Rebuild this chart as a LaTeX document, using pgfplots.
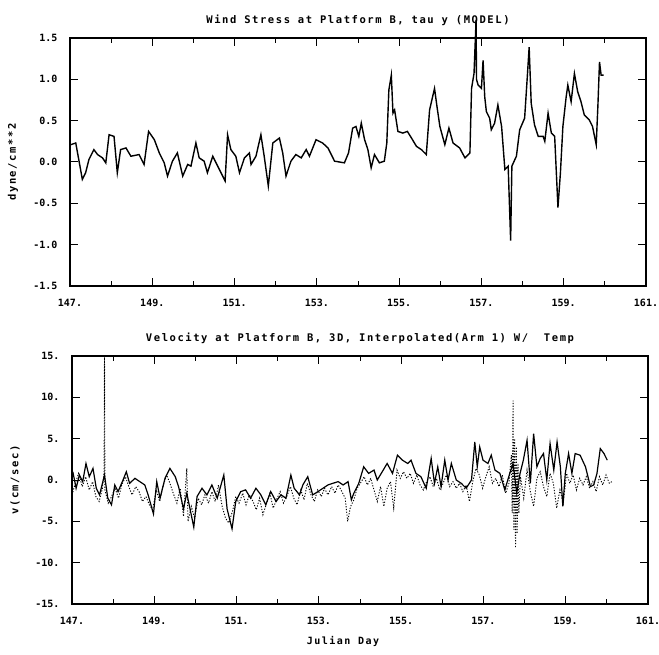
\documentclass[border=0pt]{standalone}
\usepackage{fontspec}
\setmainfont{DejaVu Sans Mono}
\newfontfamily\ttl[LetterSpace=15]{DejaVu Sans Mono}
\usepackage{pgfplots}
\usepackage{pgfplotstable}
\pgfplotsset{compat=1.18}

% wind stress tau y (model), dyne/cm**2
\pgfplotstableread{
day tau
147.00 0.20
147.02 0.21
147.14 0.23
147.22 0.01
147.30 -0.21
147.38 -0.13
147.46 0.03
147.58 0.15
147.67 0.09
147.79 0.05
147.87 -0.01
147.95 0.33
148.07 0.31
148.15 -0.13
148.23 0.15
148.36 0.17
148.48 0.07
148.68 0.09
148.80 -0.03
148.91 0.37
149.05 0.27
149.17 0.11
149.29 -0.01
149.37 -0.17
149.49 0.01
149.61 0.11
149.74 -0.17
149.86 -0.03
149.94 -0.05
150.06 0.23
150.14 0.05
150.26 0.01
150.34 -0.13
150.47 0.07
150.55 -0.01
150.63 -0.09
150.71 -0.17
150.77 -0.23
150.83 0.33
150.91 0.15
151.03 0.07
151.12 -0.13
151.24 0.05
151.36 0.11
151.40 -0.03
151.52 0.07
151.64 0.33
151.72 0.07
151.82 -0.29
151.93 0.23
152.09 0.29
152.17 0.11
152.25 -0.17
152.37 0.01
152.49 0.09
152.62 0.05
152.74 0.15
152.82 0.07
152.98 0.27
153.14 0.23
153.27 0.17
153.43 0.01
153.67 -0.01
153.77 0.11
153.87 0.41
153.95 0.43
154.02 0.31
154.08 0.47
154.16 0.27
154.24 0.15
154.32 -0.07
154.40 0.09
154.52 -0.01
154.64 0.01
154.70 0.23
154.75 0.87
154.81 1.05
154.85 0.59
154.89 0.63
154.97 0.37
155.09 0.35
155.20 0.37
155.30 0.29
155.42 0.19
155.54 0.15
155.66 0.09
155.74 0.63
155.86 0.89
155.92 0.67
155.99 0.43
156.11 0.21
156.21 0.41
156.31 0.23
156.47 0.17
156.60 0.05
156.72 0.11
156.76 0.89
156.82 1.07
156.87 1.72
156.88 1.00
156.92 0.93
157.00 0.89
157.04 1.23
157.08 0.79
157.12 0.61
157.20 0.53
157.24 0.39
157.32 0.47
157.40 0.69
157.49 0.43
157.57 -0.09
157.65 -0.05
157.71 -0.95
157.74 -0.05
157.85 0.07
157.93 0.39
158.05 0.53
158.12 1.07
158.16 1.39
158.21 0.71
158.29 0.45
158.38 0.31
158.50 0.31
158.54 0.25
158.62 0.59
158.70 0.35
158.78 0.31
158.86 -0.55
158.92 -0.13
158.98 0.43
159.06 0.79
159.10 0.93
159.18 0.73
159.26 1.07
159.34 0.85
159.42 0.73
159.50 0.57
159.62 0.51
159.70 0.43
159.79 0.21
159.83 0.67
159.87 1.21
159.91 1.05
159.97 1.05
}\wind

% velocity, solid trace
\pgfplotstableread{
day v
147.02 1.0
147.10 -1.0
147.18 0.6
147.26 -0.2
147.34 2.0
147.42 0.4
147.51 1.4
147.59 -1.0
147.67 -1.8
147.79 0.6
147.87 -2.2
147.96 -3.0
148.04 -0.6
148.12 -1.4
148.24 0.0
148.32 1.0
148.40 -0.4
148.53 0.2
148.65 -0.2
148.77 -0.6
148.85 -1.8
148.98 -4.1
149.06 -0.2
149.14 -2.2
149.26 0.2
149.38 1.4
149.51 0.4
149.59 -0.8
149.71 -3.5
149.79 -1.6
149.96 -5.7
150.04 -2.0
150.16 -1.0
150.28 -1.8
150.40 -0.6
150.53 -2.2
150.69 0.6
150.77 -3.5
150.89 -5.9
150.98 -2.6
151.10 -1.4
151.22 -1.2
151.34 -2.2
151.47 -1.0
151.59 -1.8
151.71 -3.0
151.83 -1.4
151.96 -2.6
152.08 -1.8
152.20 -2.2
152.32 0.6
152.40 -1.0
152.53 -1.8
152.61 -0.6
152.73 0.4
152.85 -1.8
152.98 -1.4
153.10 -1.0
153.22 -0.6
153.34 -0.4
153.47 -0.2
153.59 -0.6
153.71 -0.2
153.79 -2.4
153.85 -1.6
153.97 -0.4
154.09 1.6
154.21 0.8
154.34 1.2
154.42 0.0
154.54 1.0
154.66 2.0
154.79 0.8
154.91 3.0
155.03 2.4
155.16 2.0
155.24 2.4
155.36 0.8
155.48 0.4
155.61 -1.0
155.73 2.6
155.81 -0.4
155.89 1.6
155.97 -0.8
156.06 2.4
156.14 0.0
156.22 2.0
156.34 0.0
156.46 -0.4
156.58 -1.0
156.71 0.0
156.79 4.6
156.85 1.6
156.91 4.0
156.99 2.4
157.11 2.0
157.19 3.0
157.28 1.2
157.40 0.8
157.52 -1.2
157.64 0.8
157.72 2.0
157.81 -1.6
157.89 0.8
157.97 2.4
158.06 4.8
158.14 -0.4
158.22 5.6
158.30 1.6
158.38 2.6
158.46 3.2
158.54 0.0
158.62 4.4
158.71 1.2
158.79 4.6
158.87 1.6
158.93 -3.2
158.99 0.8
159.07 3.2
159.15 0.8
159.23 3.2
159.35 3.0
159.48 1.6
159.60 -0.8
159.68 -0.6
159.76 0.8
159.84 3.8
159.93 3.2
160.01 2.4
}\velsolid

% velocity, dotted trace
\pgfplotstableread{
day v
147.00 -1.8
147.08 -0.4
147.16 0.8
147.25 -0.8
147.33 0.4
147.42 -1.2
147.50 -0.2
147.58 -2.0
147.66 -2.6
147.74 -1.0
147.78 1.0
147.79 16.0
147.80 -1.2
147.88 -2.8
147.96 -2.0
148.05 -1.0
148.13 -2.2
148.21 -0.6
148.30 0.4
148.38 -0.8
148.46 -1.8
148.55 -0.8
148.63 -1.4
148.71 -2.6
148.80 -2.0
148.88 -3.0
148.96 -3.6
149.05 -1.2
149.13 -2.6
149.21 -0.8
149.30 0.6
149.38 -0.4
149.46 -1.6
149.55 -2.8
149.63 -1.0
149.71 -4.4
149.79 1.4
149.82 -5.0
149.90 -3.2
149.98 -4.6
150.07 -2.2
150.15 -3.0
150.23 -1.8
150.32 -2.8
150.40 -1.4
150.48 -2.6
150.56 -0.6
150.65 -3.2
150.73 -4.6
150.81 -5.2
150.90 -3.8
150.98 -2.0
151.06 -2.8
151.15 -1.6
151.23 -3.0
151.31 -1.8
151.40 -2.6
151.48 -3.6
151.56 -2.2
151.64 -4.2
151.73 -2.8
151.81 -1.6
151.89 -3.4
151.97 -2.4
152.06 -1.4
152.14 -2.8
152.22 -2.0
152.31 -0.8
152.39 -2.2
152.47 -3.0
152.56 -1.2
152.64 -2.4
152.72 -0.4
152.81 -1.8
152.89 -2.6
152.97 -1.2
153.06 -2.0
153.14 -1.0
153.22 -1.8
153.31 -0.8
153.39 -1.6
153.47 -0.6
153.56 -1.4
153.64 -2.2
153.70 -5.0
153.77 -3.2
153.85 -2.4
153.93 -1.0
154.01 -0.4
154.10 0.4
154.18 -0.6
154.26 0.2
154.34 -1.2
154.42 -2.6
154.50 -0.8
154.58 -3.2
154.66 -1.0
154.74 -0.2
154.82 -3.4
154.90 1.2
154.98 0.2
155.06 1.0
155.14 0.2
155.22 0.8
155.30 -0.4
155.38 0.6
155.46 -0.6
155.54 -1.2
155.62 -0.2
155.70 0.4
155.78 -0.8
155.86 0.2
155.94 -1.2
156.02 -0.4
156.10 0.6
156.18 -0.8
156.26 -0.2
156.34 -1.0
156.42 -0.4
156.50 -1.4
156.58 -0.6
156.66 -2.6
156.74 -0.2
156.82 1.4
156.90 0.6
156.98 -1.0
157.06 0.4
157.14 1.6
157.22 -0.4
157.30 0.2
157.38 -0.8
157.46 0.6
157.54 -1.6
157.62 -0.4
157.68 3.0
157.70 -4.0
157.72 9.6
157.74 -6.0
157.76 5.0
157.78 -8.2
157.80 4.0
157.82 -6.5
157.84 2.0
157.86 -4.0
157.90 0.4
157.98 -2.2
158.06 1.2
158.14 -1.4
158.22 -3.2
158.30 0.2
158.38 1.0
158.46 -0.8
158.54 -2.0
158.62 0.8
158.70 -0.4
158.78 -3.4
158.86 -1.2
158.94 -2.8
159.02 0.8
159.10 -0.4
159.18 0.6
159.26 -1.2
159.34 0.2
159.42 -0.6
159.50 0.4
159.58 -1.0
159.66 -0.2
159.74 -1.4
159.82 0.4
159.90 -0.6
159.98 0.6
160.06 -0.4
160.12 -0.2
}\veldot

\pgfplotsset{plotter/.style={
  scale only axis, width=576pt, height=248pt,
  xmin=147, xmax=161,
  xtick={147,149,...,161},
  xticklabels={147.,149.,151.,153.,155.,157.,159.,161.},
  minor xtick={148,150,...,160},
  tick align=inside,
  major tick length=8pt, minor tick length=5pt,
  axis line style={line width=1.1pt},
  every tick/.style={line width=1pt, black},
  ticklabel style={font=\bfseries\fontsize{10}{12}\selectfont},
  xticklabel style={yshift=-10pt},
  yticklabel style={xshift=-9pt},
  title style={font=\ttl\bfseries\fontsize{10.5}{13}\selectfont, at={(0.5,1)}, anchor=base, yshift=8pt},
  every axis y label/.style={at={(axis description cs:0,0.5)}, rotate=90, anchor=center, yshift=57pt, font=\ttl\bfseries\fontsize{10.5}{13}\selectfont},
  every axis x label/.style={at={(axis description cs:0.5,0)}, anchor=base, yshift=-40pt, xshift=-17pt, font=\ttl\bfseries\fontsize{10}{12}\selectfont},
}}

\begin{document}
\begin{tikzpicture}
\useasboundingbox (0,0) rectangle (659pt,654pt);
\begin{axis}[plotter, at={(70pt,368pt)}, anchor=south west, clip=false,
  ymin=-1.5, ymax=1.5,
  ytick={-1.5,-1,-0.5,0,0.5,1,1.5},
  yticklabels={-1.5,-1.0,-0.5,0.0,0.5,1.0,1.5},
  title={Wind Stress at Platform B, tau y (MODEL)},
  ylabel={dyne/cm**2}]
\addplot[black, line width=1.4pt, mark=none] table[x=day, y=tau] {\wind};
\end{axis}
\begin{axis}[plotter, at={(72pt,50pt)}, anchor=south west,
  ymin=-15, ymax=15,
  ytick={-15,-10,-5,0,5,10,15},
  yticklabels={-15.,-10.,-5.,0.,5.,10.,15.},
  title={Velocity at Platform B, 3D, Interpolated(Arm 1) W/~~Temp},
  ylabel={v(cm/sec)},
  xlabel={Julian Day}]
\addplot[black, line width=0.9pt, dash pattern=on 1.2pt off 1.6pt, mark=none] table[x=day, y=v] {\veldot};
\addplot[black, line width=1.2pt, mark=none] table[x=day, y=v] {\velsolid};
\end{axis}
\end{tikzpicture}
\end{document}
